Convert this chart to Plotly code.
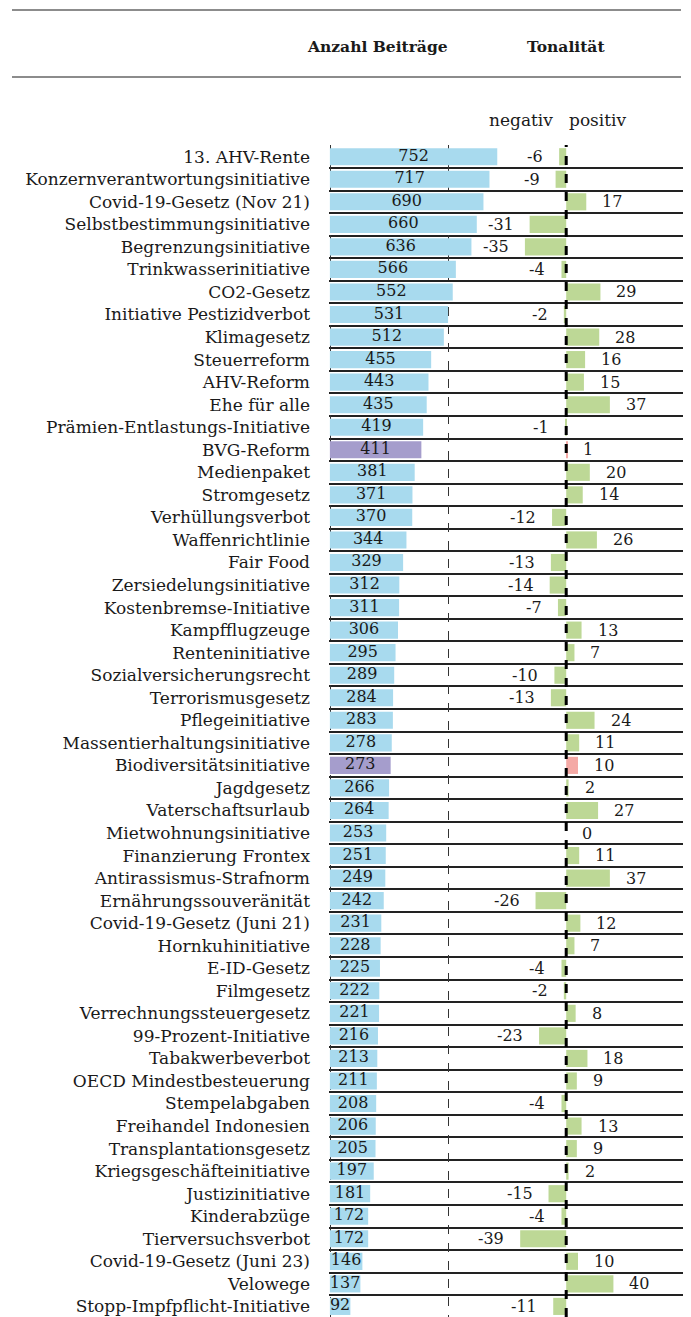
import plotly.graph_objects as go

topics = [
    "13. AHV-Rente", "Konzernverantwortungsinitiative", "Covid-19-Gesetz (Nov 21)",
    "Selbstbestimmungsinitiative", "Begrenzungsinitiative", "Trinkwasserinitiative",
    "CO2-Gesetz", "Initiative Pestizidverbot", "Klimagesetz", "Steuerreform",
    "AHV-Reform", "Ehe für alle", "Prämien-Entlastungs-Initiative", "BVG-Reform",
    "Medienpaket", "Stromgesetz", "Verhüllungsverbot", "Waffenrichtlinie", "Fair Food",
    "Zersiedelungsinitiative", "Kostenbremse-Initiative", "Kampfflugzeuge",
    "Renteninitiative", "Sozialversicherungsrecht", "Terrorismusgesetz",
    "Pflegeinitiative", "Massentierhaltungsinitiative", "Biodiversitätsinitiative",
    "Jagdgesetz", "Vaterschaftsurlaub", "Mietwohnungsinitiative", "Finanzierung Frontex",
    "Antirassismus-Strafnorm", "Ernährungssouveränität", "Covid-19-Gesetz (Juni 21)",
    "Hornkuhinitiative", "E-ID-Gesetz", "Filmgesetz", "Verrechnungssteuergesetz",
    "99-Prozent-Initiative", "Tabakwerbeverbot", "OECD Mindestbesteuerung",
    "Stempelabgaben", "Freihandel Indonesien", "Transplantationsgesetz",
    "Kriegsgeschäfteinitiative", "Justizinitiative", "Kinderabzüge",
    "Tierversuchsverbot", "Covid-19-Gesetz (Juni 23)", "Velowege",
    "Stopp-Impfpflicht-Initiative",
]
beitraege = [752, 717, 690, 660, 636, 566, 552, 531, 512, 455, 443, 435, 419, 411,
             381, 371, 370, 344, 329, 312, 311, 306, 295, 289, 284, 283, 278, 273,
             266, 264, 253, 251, 249, 242, 231, 228, 225, 222, 221, 216, 213, 211,
             208, 206, 205, 197, 181, 172, 172, 146, 137, 92]
tonalitaet = [-6, -9, 17, -31, -35, -4, 29, -2, 28, 16, 15, 37, -1, 1, 20, 14, -12,
              26, -13, -14, -7, 13, 7, -10, -13, 24, 11, 10, 2, 27, 0, 11, 37, -26,
              12, 7, -4, -2, 8, -23, 18, 9, -4, 13, 9, 2, -15, -4, -39, 10, 40, -11]
highlighted = ["BVG-Reform", "Biodiversitätsinitiative"]

BLUE = "#A8DAEE"
PURPLE = "#A59DCC"
GREEN = "#BDD896"
PINK = "#F4A9A5"
INK = "#1a1a1a"
FONT = "DejaVu Serif"

# page body has an 8px margin: figure coordinates = page coordinates - 8
FIG_W, FIG_H = 683, 1309
ML, MR, MT, MB = 321, 5, 137, 0
PW = FIG_W - ML - MR
PH = FIG_H - MT - MB
X0_PAGE = 8 + ML


def px(page_x):
    return (page_x - X0_PAGE) / PW


def py(page_y):
    return 1 + (145 - page_y) / PH


ypos = list(range(len(topics)))
count_colors = [PURPLE if t in highlighted else BLUE for t in topics]
tone_colors = [PINK if t in highlighted else GREEN for t in topics]

fig = go.Figure()
fig.add_trace(go.Bar(
    y=ypos, x=beitraege, orientation="h", marker=dict(color=count_colors, line=dict(width=0)),
    width=0.76, xaxis="x", yaxis="y", hoverinfo="skip", showlegend=False,
))
fig.add_trace(go.Scatter(
    y=ypos, x=[v / 2 for v in beitraege], mode="text", text=[str(v) for v in beitraege],
    textposition="middle center", textfont=dict(family=FONT, size=16, color=INK),
    xaxis="x", yaxis="y", hoverinfo="skip", showlegend=False, cliponaxis=False,
))
fig.add_trace(go.Bar(
    y=ypos, x=tonalitaet, orientation="h", marker=dict(color=tone_colors, line=dict(width=0)),
    width=0.76, xaxis="x2", yaxis="y", hoverinfo="skip", showlegend=False,
))

for y, v in zip(ypos, tonalitaet):
    fig.add_annotation(
        x=v, y=y, xref="x2", yref="y", text=str(v), showarrow=False,
        xanchor="left" if v >= 0 else "right", xshift=14 if v >= 0 else -14,
        font=dict(family=FONT, size=16, color=INK),
    )

# zero line of tonality
fig.add_shape(type="line", xref="x2", yref="paper", x0=0, x1=0, y0=0, y1=1,
              line=dict(color="black", width=3, dash="dash"), layer="above")

# header rules
for yy in (10, 77):
    fig.add_shape(type="line", xref="paper", yref="paper", x0=px(12), x1=px(681),
                  y0=py(yy), y1=py(yy), line=dict(color="#666666", width=1.5))


def head(text, xp, yp, size, bold=False):
    fig.add_annotation(x=px(xp), y=py(yp), xref="paper", yref="paper", text=text,
                       showarrow=False, xanchor="center", yanchor="middle",
                       font=dict(family=FONT, size=size, color=INK,
                                 weight="bold" if bold else "normal"))


head("Anzahl Beiträge", 377, 47, 15.5, bold=True)
head("Tonalität", 566, 47, 15.5, bold=True)
head("negativ", 521, 120, 17)
head("positiv", 598, 120, 17)

fig.update_layout(
    width=FIG_W, height=FIG_H,
    margin=dict(l=ML, r=MR, t=MT, b=MB),
    paper_bgcolor="white", plot_bgcolor="white",
    barmode="overlay",
    xaxis=dict(range=[-4, 1600], showticklabels=False, showgrid=False,
               zeroline=False, showline=False, fixedrange=True),
    xaxis2=dict(overlaying="x", side="top", range=[-201, 101.5],
                tickmode="array", tickvals=[-200, -100, 100], showticklabels=False,
                showgrid=True, gridcolor="#333333", gridwidth=1, griddash="dash",
                zeroline=False, showline=False, ticks=""),
    yaxis=dict(range=[51.47, -0.52], tickmode="array", tickvals=ypos, ticktext=topics,
               tickfont=dict(family=FONT, size=17, color=INK), showgrid=False,
               zeroline=False, showline=False, ticks="", ticklabelstandoff=18,
               minor=dict(tickvals=[i + 0.5 for i in range(-1, len(topics))], showgrid=True,
                          gridcolor="#222222", gridwidth=1.5, ticks="")),
    font=dict(family=FONT, color=INK),
)

fig.write_html("out.html")
